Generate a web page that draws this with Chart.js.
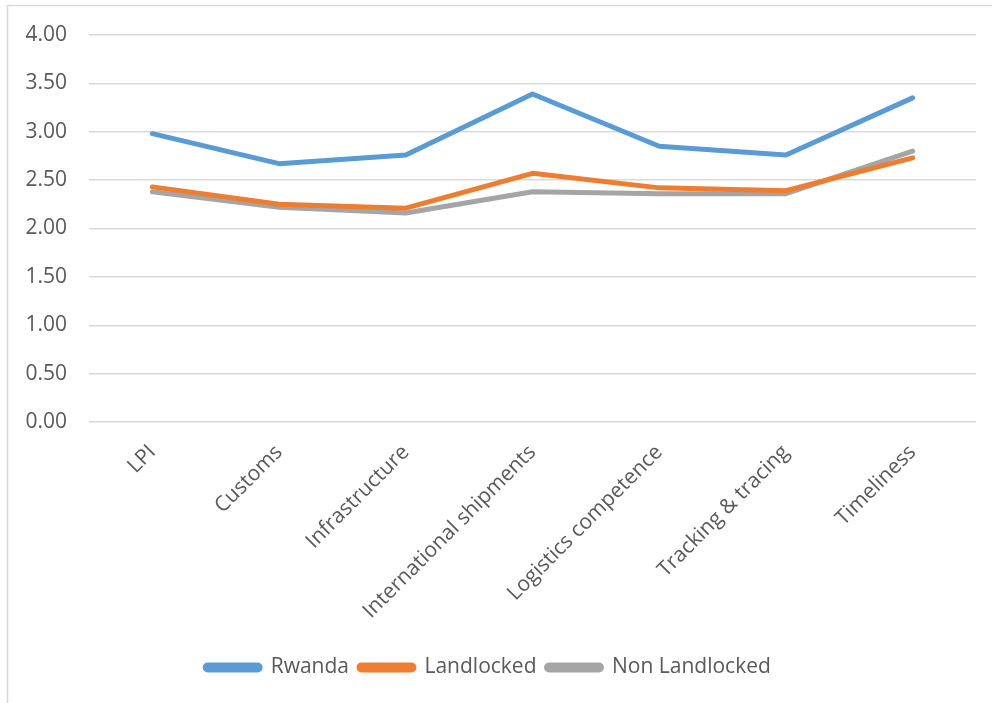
<!DOCTYPE html>
<html>
<head>
<meta charset="utf-8">
<script src="https://cdn.jsdelivr.net/npm/chart.js@4"></script>
<style>
  html, body { margin: 0; padding: 0; background: #fff; }
  canvas { display: block; }
</style>
</head>
<body>
<canvas id="chart" width="992" height="703"></canvas>
<script>
const categories = ['LPI', 'Customs', 'Infrastructure', 'International shipments',
  'Logistics competence', 'Tracking & tracing', 'Timeliness'];
const rwanda = [2.98, 2.67, 2.76, 3.39, 2.85, 2.76, 3.35];
const landlocked = [2.43, 2.25, 2.21, 2.57, 2.42, 2.39, 2.73];
const nonLandlocked = [2.38, 2.22, 2.16, 2.38, 2.36, 2.36, 2.80];
const yTicks = [0, 0.5, 1, 1.5, 2, 2.5, 3, 3.5, 4];

const TEXT = '#595959';
const GRID = '#d9d9d9';
const FONT = "'Open Sans', sans-serif";

// frame around the chart object (right and bottom edges fall outside the canvas)
const frame = {
  id: 'frame',
  beforeDraw(chart) {
    const c = chart.ctx;
    c.save();
    c.strokeStyle = GRID;
    c.lineWidth = 1.5;
    c.strokeRect(7.5, 5.5, 1200, 1200);
    c.restore();
  }
};

function line(label, data, color) {
  return {
    label,
    data,
    borderColor: color,
    backgroundColor: color,
    borderWidth: 5,
    pointRadius: 0,
    tension: 0,
    borderCapStyle: 'round',
    borderJoinStyle: 'round'
  };
}

new Chart(document.getElementById('chart'), {
  type: 'line',
  data: {
    labels: categories,
    datasets: [
      line('Rwanda', rwanda, '#5b9bd5'),
      line('Landlocked', landlocked, '#ed7d31'),
      line('Non Landlocked', nonLandlocked, '#a5a5a5')
    ]
  },
  plugins: [frame],
  options: {
    responsive: false,
    animation: false,
    layout: { padding: { left: 0, right: 16, top: 35, bottom: 15 } },
    plugins: {
      tooltip: { enabled: false },
      legend: {
        position: 'bottom',
        labels: {
          color: TEXT,
          font: { family: FONT, size: 21 },
          boxWidth: 55,
          boxHeight: 5,
          padding: 10,
          useBorderRadius: true,
          borderRadius: 2.5
        }
      }
    },
    scales: {
      x: {
        offset: true,
        grid: { display: false },
        border: { display: false },
        ticks: {
          color: TEXT,
          font: { family: FONT, size: 21 },
          minRotation: 45,
          maxRotation: 45,
          padding: 10
        },
        afterFit(s) { s.height = 225; }
      },
      y: {
        min: 0,
        max: 4,
        afterBuildTicks(s) { s.ticks = yTicks.map(v => ({ value: v })); },
        grid: { color: GRID, lineWidth: 1.5, drawTicks: false },
        border: { display: false },
        ticks: {
          color: TEXT,
          font: { family: FONT, size: 21 },
          padding: 22,
          callback: v => v.toFixed(2)
        },
        afterFit(s) { s.width = 89; }
      }
    }
  }
});
</script>
</body>
</html>
